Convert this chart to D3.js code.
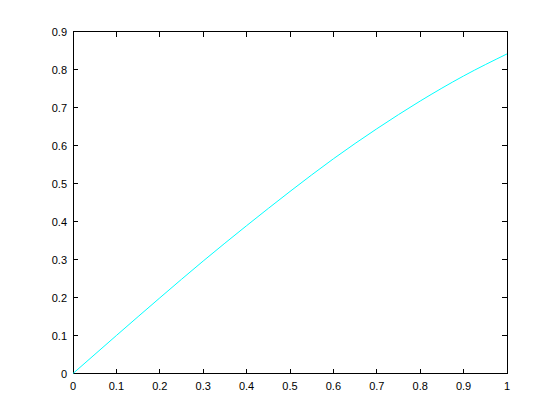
<!DOCTYPE html>
<html>
<head>
<meta charset="utf-8">
<script src="https://cdn.jsdelivr.net/npm/d3@7"></script>
<style>
body { margin: 0; background: #fff; }
text { font-family: "Liberation Sans", Arial, sans-serif; font-size: 11px; fill: #000; }
</style>
</head>
<body>
<div id="chart"></div>
<script>
// curve samples
let xs = [0, 0.1, 0.2, 0.3, 0.4, 0.5, 0.6, 0.7, 0.8, 0.9, 1.0]
let ys = [0, 0.100, 0.199, 0.296, 0.389, 0.479, 0.565, 0.644, 0.717, 0.783, 0.841]

let xTicks = [0, 0.1, 0.2, 0.3, 0.4, 0.5, 0.6, 0.7, 0.8, 0.9, 1]
let yTicks = [0, 0.1, 0.2, 0.3, 0.4, 0.5, 0.6, 0.7, 0.8, 0.9]

let width = 560, height = 420
let plotLeft = 73, plotRight = 507, plotTop = 31.5, plotBottom = 373.5

let svg = d3.select('#chart').append('svg')
    .attr('width', width)
    .attr('height', height)

let x = d3.scaleLinear().domain([0, 1]).range([plotLeft, plotRight])
let y = d3.scaleLinear().domain([0, 0.9]).range([plotBottom, plotTop])

let tickLen = 5
let fmt = function(d){ return d3.format('~g')(d) }

let g = svg.append('g').attr('shape-rendering', 'crispEdges')

// bottom and top ticks
xTicks.forEach(function(t){
    g.append('line')
        .attr('x1', x(t)).attr('x2', x(t))
        .attr('y1', plotBottom).attr('y2', plotBottom - tickLen)
        .attr('stroke', '#000')
    g.append('line')
        .attr('x1', x(t)).attr('x2', x(t))
        .attr('y1', plotTop).attr('y2', plotTop + tickLen)
        .attr('stroke', '#000')
})

// left and right ticks
yTicks.forEach(function(t){
    g.append('line')
        .attr('x1', plotLeft).attr('x2', plotLeft + tickLen)
        .attr('y1', y(t)).attr('y2', y(t))
        .attr('stroke', '#000')
    g.append('line')
        .attr('x1', plotRight).attr('x2', plotRight - tickLen)
        .attr('y1', y(t)).attr('y2', y(t))
        .attr('stroke', '#000')
})

g.append('rect')
    .attr('x', plotLeft).attr('y', plotTop)
    .attr('width', plotRight - plotLeft).attr('height', plotBottom - plotTop)
    .attr('fill', 'none')
    .attr('stroke', '#000')

svg.append('g').selectAll('text')
    .data(xTicks)
    .enter()
    .append('text')
    .attr('x', function(d){ return x(d) })
    .attr('y', plotBottom + 16)
    .attr('text-anchor', 'middle')
    .text(fmt)

svg.append('g').selectAll('text')
    .data(yTicks)
    .enter()
    .append('text')
    .attr('x', plotLeft - 6)
    .attr('y', function(d){ return y(d) + 4 })
    .attr('text-anchor', 'end')
    .text(fmt)

let line = d3.line()
    .curve(d3.curveMonotoneX)
    .x(function(d){ return x(d[0]) })
    .y(function(d){ return y(d[1]) })

svg.append('path')
    .datum(d3.zip(xs, ys))
    .attr('d', line)
    .attr('fill', 'none')
    .attr('stroke', '#00ffff')
    .attr('stroke-width', 1)
</script>
</body>
</html>
